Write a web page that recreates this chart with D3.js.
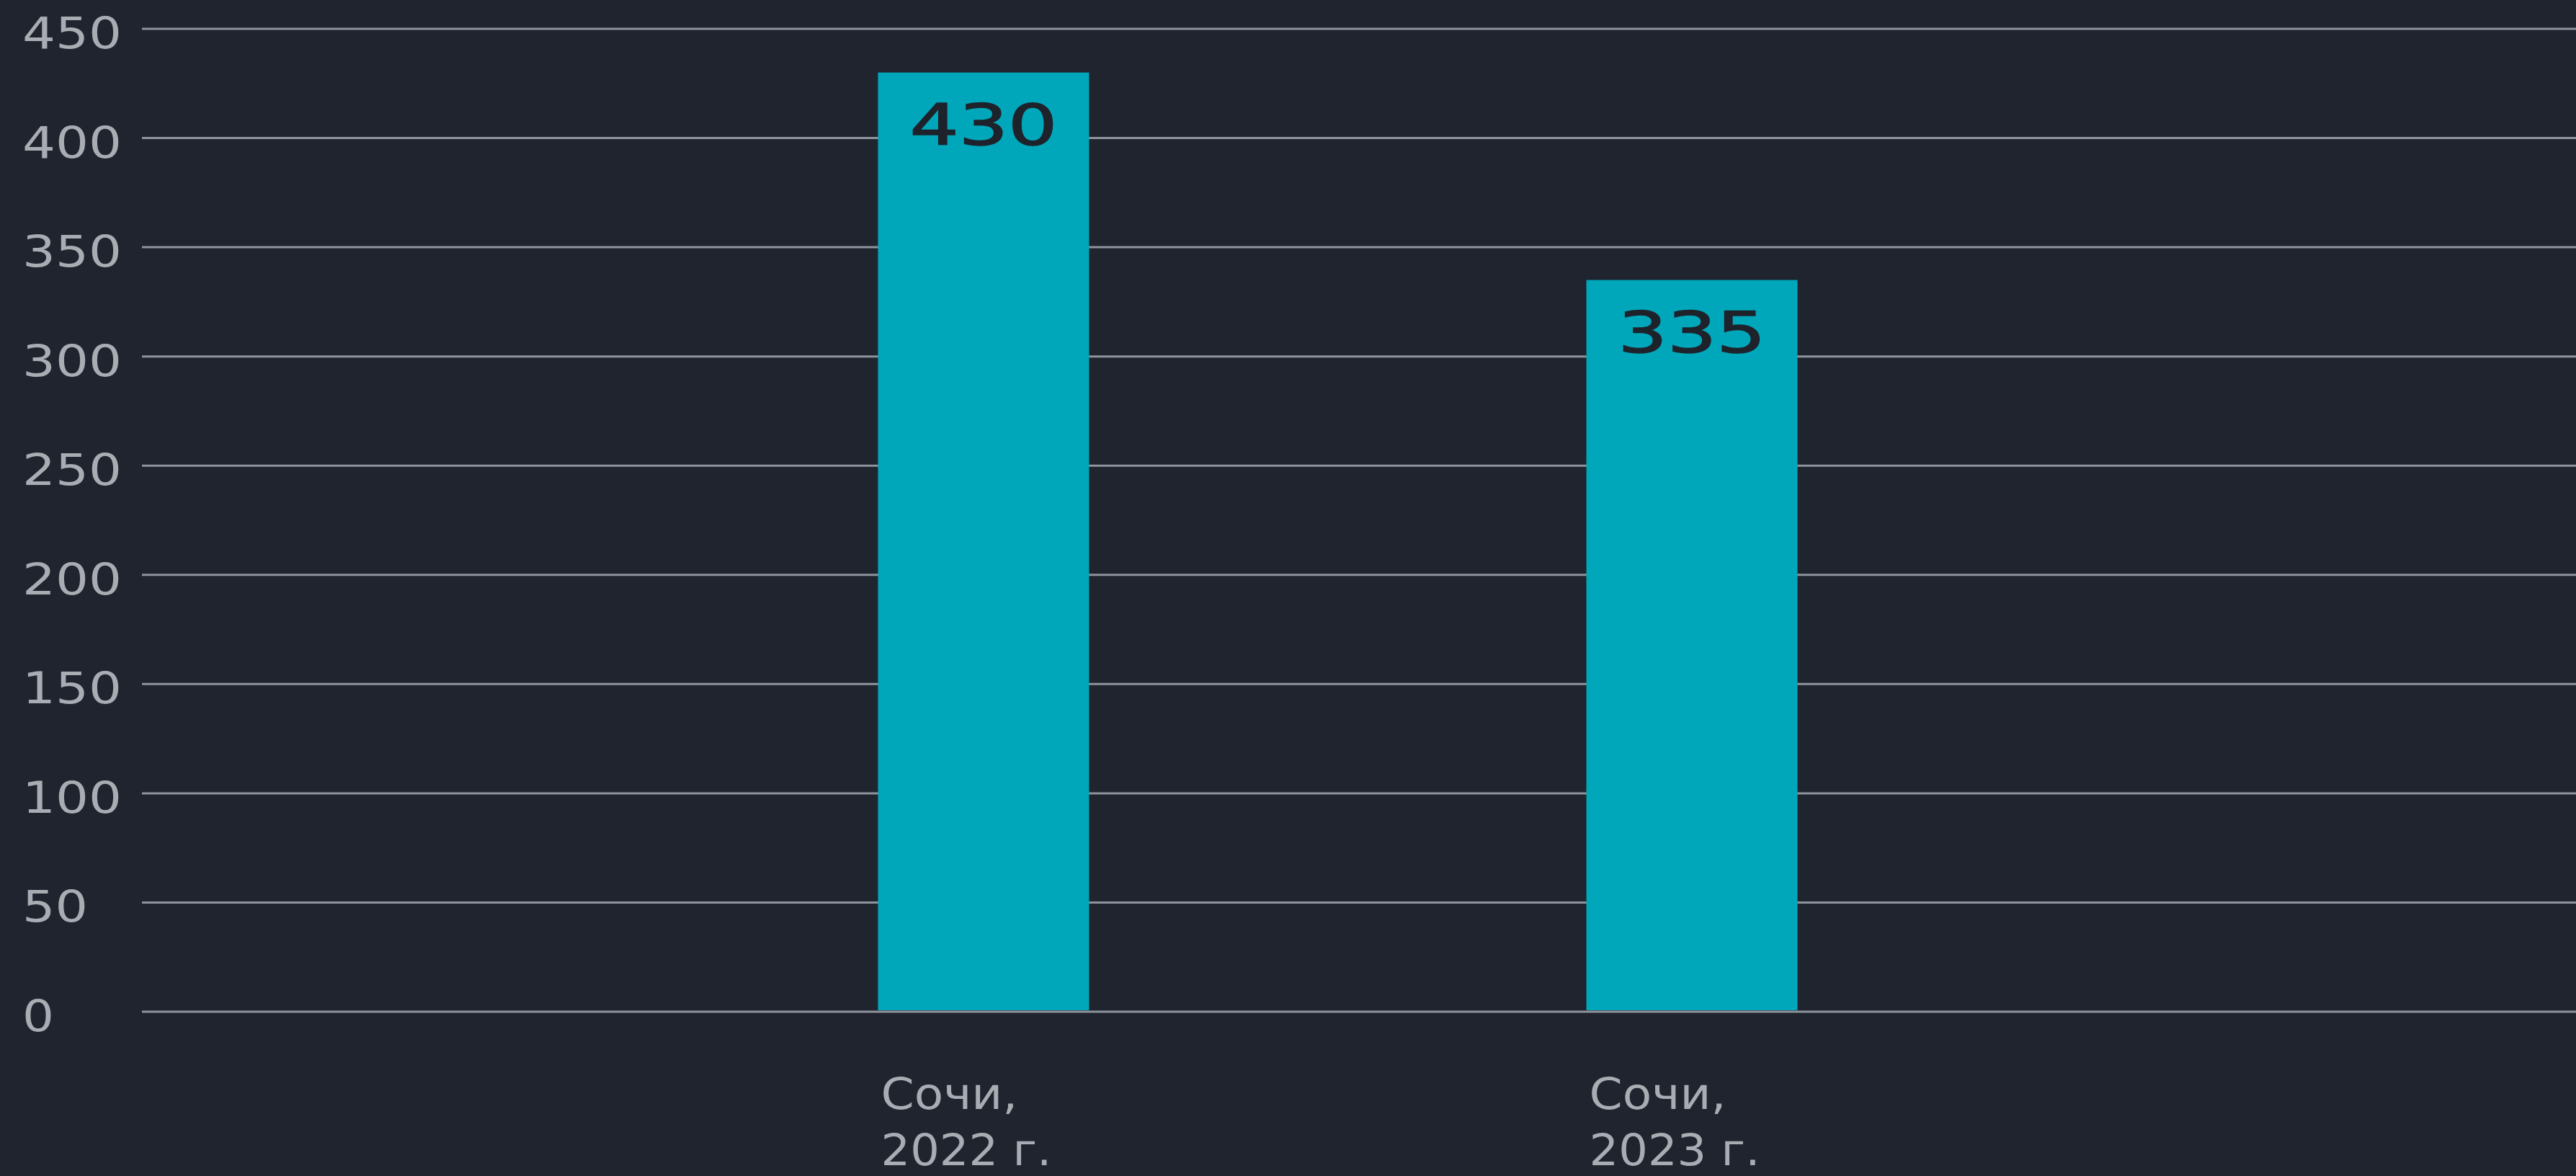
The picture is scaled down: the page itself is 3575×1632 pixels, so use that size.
<!DOCTYPE html>
<html>
<head>
<meta charset="utf-8">
<script src="https://cdn.jsdelivr.net/npm/d3@7"></script>
<style>
  html, body { margin: 0; padding: 0; background: #1f242e; }
  svg { display: block; }
</style>
</head>
<body>
<svg id="chart" width="3575" height="1632"></svg>
<script>
const categories = ["Сочи, 2022 г.", "Сочи, 2023 г."];
const categoryLines = [["Сочи,", "2022 г."], ["Сочи,", "2023 г."]];
const values = [430, 335];
const valueLabels = ["430", "335"];
const yTicks = [0, 50, 100, 150, 200, 250, 300, 350, 400, 450];

const W = 3575, H = 1632;
const svg = d3.select("#chart");
svg.append("rect").attr("width", W).attr("height", H).attr("fill", "#1f242e");

const gridLeft = 197, gridRight = W;
const y = d3.scaleLinear().domain([0, 450]).range([1404, 40]);
const x = d3.scaleBand().domain(categories).range([197, 3516])
  .paddingInner(0.702).paddingOuter(1.039).align(0.5);

const FONT = "'DejaVu Sans', 'Noto Sans', sans-serif";

// stretch a text horizontally to a wanted width (the reference font is a wide one)
function fitWidth(sel, tx, ty, target) {
  sel.each(function (d, i) {
    const t = d3.select(this);
    t.attr("transform", null);
    const w = this.getBBox().width || 1;
    const sx = target(d, i) / w;
    t.attr("transform", `translate(${tx(d, i)},${ty(d, i)}) scale(${sx},1)`);
  });
}

// grid lines
svg.append("g").selectAll("line").data(yTicks).join("line")
  .attr("x1", gridLeft).attr("x2", gridRight)
  .attr("y1", d => y(d)).attr("y2", d => y(d))
  .attr("stroke", "#8e939c").attr("stroke-width", 3);

// y tick labels
const yl = svg.append("g").selectAll("text").data(yTicks).join("text")
  .attr("font-family", FONT).attr("font-size", 61)
  .attr("fill", "#a9acb3")
  .text(d => d);
fitWidth(yl, () => 31, d => y(d) + 27, d => 47 * String(d).length - 3);

// bars
svg.append("g").selectAll("rect").data(values).join("rect")
  .attr("x", (d, i) => x(categories[i]))
  .attr("width", x.bandwidth())
  .attr("y", d => y(d))
  .attr("height", d => y(0) - y(d) - 2)
  .attr("fill", "#00a7bb");

// value labels
const vl = svg.append("g").selectAll("text").data(values).join("text")
  .attr("text-anchor", "middle")
  .attr("font-family", FONT).attr("font-size", 78)
  .attr("fill", "#1e232b")
  .attr("stroke", "#1e232b").attr("stroke-width", 1.6)
  .text((d, i) => valueLabels[i]);
fitWidth(vl, (d, i) => x(categories[i]) + x.bandwidth() / 2, d => y(d) + 100, () => 205);

// category labels
const cat = svg.append("g").selectAll("g").data(categories).join("g")
  .attr("transform", d => `translate(${x(d) + 4},0)`);
const cl = cat.selectAll("text").data((d, i) => categoryLines[i]).join("text")
  .attr("font-family", FONT).attr("font-size", 61)
  .attr("fill", "#a9acb3")
  .text(d => d);
fitWidth(cl, () => 0, (d, j) => 1539 + j * 78, (d, j) => j === 0 ? 190 : 237);
</script>
</body>
</html>
